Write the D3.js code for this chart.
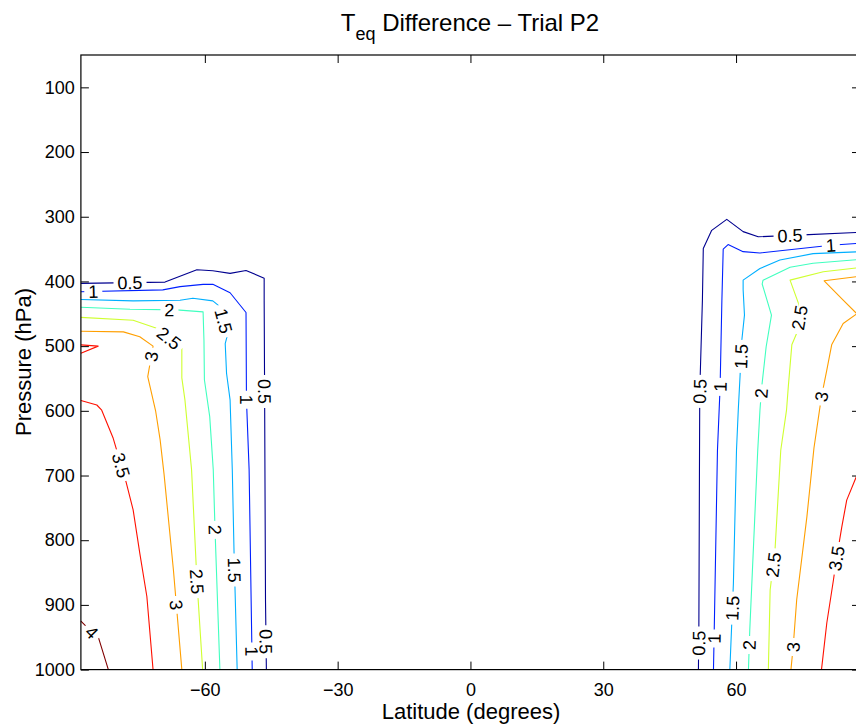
<!DOCTYPE html>
<html><head><meta charset="utf-8">
<script src="https://cdn.jsdelivr.net/npm/d3@7"></script>
<style>body{margin:0;background:#fff}svg{display:block}</style>
</head><body><svg id="c" width="856" height="724"></svg>
<script>
// ---------- data ----------
const levels = [0.5, 1, 1.5, 2, 2.5, 3, 3.5, 4];
const xTicks = [-60, -30, 0, 30, 60];
const yTicks = [100, 200, 300, 400, 500, 600, 700, 800, 900, 1000];

// contour polylines: [latitude, pressure]
const s05 = [[-88,403],[-69,401],[-61.8,382],[-58.2,383.5],[-54.3,387.5],[-50.7,383],[-46.6,395],[-46.6,429],[-46.5,571],[-46.3,892],[-46.1,1000]];
const s10 = [[-88,416],[-69.5,413],[-65.6,408],[-60.4,404.5],[-58.2,404.5],[-54.3,417.5],[-50.7,448],[-50.6,583],[-50,691],[-49.3,1000]];
const s15 = [[-88,428],[-76.2,430],[-65.6,429],[-62.7,426],[-58.2,430],[-56.6,439],[-54.9,483],[-55.4,496],[-55.1,542],[-54.3,583],[-53.8,691],[-53.4,820],[-52.7,1000]];
const s20 = [[-88,440],[-76.9,443],[-66.4,444],[-60.4,447],[-60.2,491],[-60.1,552],[-58.9,609],[-58.1,691],[-57.7,784],[-56.6,1000]];
const s25 = [[-88,455.5],[-76.2,460],[-70.9,472.5],[-65.2,503],[-65.2,549],[-64.5,583],[-63,691],[-61.8,861],[-60.5,1000]];
const s30 = [[-88,477],[-78.4,478],[-74.7,485.5],[-71.7,500],[-72.9,547],[-71.1,601],[-70.1,645],[-69.2,699],[-67.1,846],[-65.2,1000]];
const s35a = [[-88,498],[-84.1,500],[-88,511]];
const s35b = [[-88,584],[-84.4,591],[-83.3,599],[-80.7,642.5],[-79.9,661],[-77.8,710],[-76.2,753],[-74.7,820],[-73.1,887],[-71.7,1000]];
const s40 = [[-88,925],[-85.5,942],[-84.1,949],[-81.8,1000]];

const n05 = [[88,324],[75.2,328],[65,331],[61.6,323],[57.9,304],[54.5,321],[52.6,349],[52.4,429],[51.8,570],[51.6,934],[51.5,1000]];
const n10 = [[88,341],[81.4,344],[65.4,356],[61.6,354],[58.2,343],[57.1,350],[56.8,429],[56.4,563],[55.8,661],[55.1,928],[54.9,1000]];
const n15 = [[88,354],[77.4,357],[69.9,367],[65.4,380],[61.6,398],[61.6,413],[61.9,452],[61.3,491],[60.9,547],[60.5,599],[60.1,661],[59.4,867],[58.6,1000]];
const n20 = [[88,366],[77.4,372],[72.2,378],[66.1,398],[65.9,404],[68,452],[66.8,501],[65.8,563],[65.4,599],[64.9,661],[63.1,939],[62.8,1000]];
const n25 = [[88,378.5],[79.7,385],[72.2,398],[74.1,434],[74.4,452],[73.7,480],[72.6,498],[71.8,563],[71.4,599],[70.1,661],[68.8,815],[67.7,877],[67.3,1000]];
const n30 = [[88,392],[79.9,399],[84.2,429],[87.3,450],[84.2,465],[81.6,498],[80.5,537],[79.3,578],[77.6,657.5],[76,764],[73.7,892],[72.9,965],[72.4,1000]];
const n35 = [[88,688],[85,738],[83.9,779],[82.7,828],[82,861.5],[80.5,928],[79.3,1000]];

// contour labels: [level, latitude, pressure]
const labelData = [
  [0.5,-76.9,403],[1,-85.2,416],[2,-68,446.5],[2.5,-67.9,486],[1.5,-55.1,460],[3,-72.2,516],
  [0.5,-46.6,570],[1,-50.6,583],[3.5,-78.9,684],[2,-57.8,784],[1.5,-53.3,846],[2.5,-61.8,864],
  [3,-66.5,900],[0.5,-46.2,957],[1,-49.4,972],[4,-85.5,942],
  [0.5,72.2,329],[1,81.4,344],[2.5,74.3,456],[1.5,61.2,516],[0.5,51.9,570],[1,56.4,563],
  [2,65.7,573],[3,79.3,578],[3.5,82.7,828],[2.5,68.5,838],[1.5,59.2,905],[0.5,51.6,959],
  [1,55,952],[2,63,962],[3,72.9,965]
];

const contourLines = [
  {level:0.5, pts:s05},{level:1, pts:s10},{level:1.5, pts:s15},{level:2, pts:s20},
  {level:2.5, pts:s25},{level:3, pts:s30},{level:3.5, pts:s35a},{level:3.5, pts:s35b},{level:4, pts:s40},
  {level:0.5, pts:n05},{level:1, pts:n10},{level:1.5, pts:n15},{level:2, pts:n20},
  {level:2.5, pts:n25},{level:3, pts:n30},{level:3.5, pts:n35}
];

// ---------- drawing ----------
const svg = d3.select("#c");
const FONT = "'Liberation Sans', Arial, Helvetica, sans-serif";
const xS = d3.scaleLinear().domain([-88, 88]).range([80.9, 860]);
const yS = d3.scaleLinear().domain([50, 1000]).range([55, 669.6]);
const color = d3.scaleOrdinal().domain(levels).range([
  "rgb(0,0,143)","rgb(0,32,255)","rgb(0,175,255)","rgb(64,255,191)",
  "rgb(207,255,48)","rgb(255,159,0)","rgb(255,16,0)","rgb(128,0,0)"]);

svg.append("rect").attr("width",856).attr("height",724).attr("fill","#fff");

const lineGen = d3.line().x(d => xS(d[0])).y(d => yS(d[1]));
const gLines = svg.append("g");
gLines.selectAll("path").data(contourLines).join("path")
  .attr("d", d => lineGen(d.pts))
  .attr("fill","none")
  .attr("stroke", d => color(d.level))
  .attr("stroke-width", 1.1)
  .attr("stroke-linejoin","round");

function nearest(level, px, py) {
  let best = null;
  contourLines.filter(c => c.level === level).forEach(c => {
    const pts = c.pts.map(d => [xS(d[0]), yS(d[1])]);
    for (let i = 0; i < pts.length - 1; i++) {
      const [ax, ay] = pts[i], [bx, by] = pts[i+1];
      const dx = bx - ax, dy = by - ay, L = dx*dx + dy*dy;
      let t = L ? ((px-ax)*dx + (py-ay)*dy) / L : 0;
      t = Math.max(0, Math.min(1, t));
      const qx = ax + t*dx, qy = ay + t*dy;
      const d2 = (px-qx)**2 + (py-qy)**2;
      if (!best || d2 < best.d2) best = {d2, qx, qy, ang: Math.atan2(dy, dx) * 180 / Math.PI};
    }
  });
  let a = best.ang;
  if (a > 90) a -= 180;
  if (a < -90) a += 180;
  best.ang = a;
  return best;
}

const gLab = svg.append("g");
labelData.forEach(([lv, la, p]) => {
  const n = nearest(lv, xS(la), yS(p));
  const g = gLab.append("g").attr("transform", `translate(${n.qx},${n.qy}) rotate(${n.ang})`);
  const t = g.append("text").text(String(lv))
    .attr("text-anchor","middle").attr("dy","0.36em")
    .attr("font-family", FONT).attr("font-size", 18).attr("fill","#000");
  const w = t.node().getComputedTextLength();
  g.insert("rect","text").attr("x", -w/2 - 4).attr("y", -3).attr("width", w + 8).attr("height", 6).attr("fill","#fff");
});

// axes
const axG = svg.append("g").attr("font-family", FONT);
const axLeft = d3.axisLeft(yS).tickValues(yTicks).tickSizeInner(-8).tickSizeOuter(0).tickPadding(6)
  .tickFormat(d3.format("d"));
const axBottom = d3.axisBottom(xS).tickValues(xTicks).tickSizeInner(-8).tickSizeOuter(0).tickPadding(14)
  .tickFormat(d => d < 0 ? "\u2212" + Math.abs(d) : String(d));
const axRight = d3.axisRight(yS).tickValues(yTicks).tickSizeInner(-8).tickSizeOuter(0).tickFormat("");
const axTop = d3.axisTop(xS).tickValues(xTicks).tickSizeInner(-8).tickSizeOuter(0).tickFormat("");

function styleAxis(g) {
  g.select(".domain").remove();
  g.selectAll(".tick line").attr("stroke","#000").attr("stroke-width",1);
  g.selectAll(".tick text").attr("font-size",18).attr("font-family",FONT).attr("fill","#000");
}
axG.append("g").attr("transform",`translate(${xS(-88)},0)`).call(axLeft).call(styleAxis);
axG.append("g").attr("transform",`translate(0,${yS(1000)})`).call(axBottom).call(styleAxis);
axG.append("g").attr("transform",`translate(${xS(88)},0)`).call(axRight).call(styleAxis);
axG.append("g").attr("transform",`translate(0,${yS(50)})`).call(axTop).call(styleAxis);

svg.append("rect").attr("x", xS(-88)).attr("y", yS(50))
  .attr("width", xS(88) - xS(-88)).attr("height", yS(1000) - yS(50))
  .attr("fill","none").attr("stroke","#000").attr("stroke-width",1.2);

// titles
const title = svg.append("text").attr("x", 470).attr("y", 31)
  .attr("text-anchor","middle").attr("font-family",FONT).attr("font-size",24).attr("fill","#000");
title.append("tspan").text("T");
title.append("tspan").text("eq").attr("font-size",18).attr("dy",9);
title.append("tspan").text(" Difference \u2013 Trial P2").attr("dy",-9);

svg.append("text").attr("x", 471).attr("y", 719).attr("text-anchor","middle")
  .attr("font-family",FONT).attr("font-size",22).attr("fill","#000").text("Latitude (degrees)");
svg.append("text").attr("transform","translate(30.5,362) rotate(-90)").attr("text-anchor","middle")
  .attr("font-family",FONT).attr("font-size",22).attr("fill","#000").text("Pressure (hPa)");
</script></body></html>
